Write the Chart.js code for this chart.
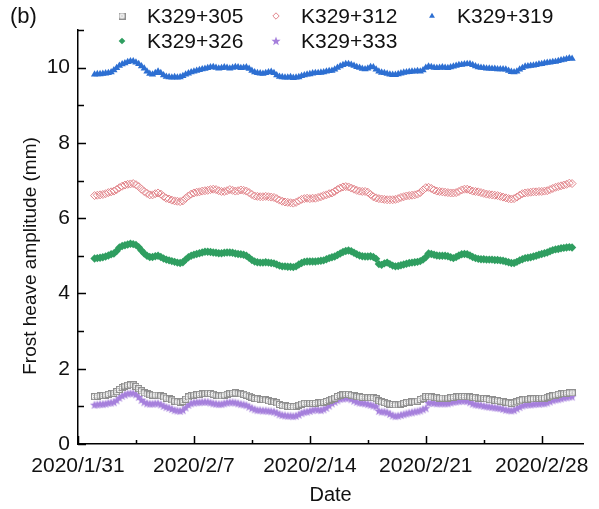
<!DOCTYPE html>
<html>
<head>
<meta charset="utf-8">
<script src="https://cdn.jsdelivr.net/npm/chart.js@4.4.1/dist/chart.umd.min.js"></script>
<style>
  html, body { margin: 0; padding: 0; background: #fff; }
  canvas { display: block; }
</style>
</head>
<body>
<canvas id="chart" width="599" height="509"></canvas>
<script>
// Frost heave amplitude monitored at five sections, one reading every 4 hours
const dateTicks = ['2020/1/31', '2020/2/7', '2020/2/14', '2020/2/21', '2020/2/28'];
const FIRST_DAY = 1;          // first reading: 2020/2/1 00:00 (days after 2020/1/31)
const READINGS_PER_DAY = 6;

const k305 = [
  1.26,1.27,1.28,1.29,1.30,1.32, 1.34,1.35,1.39,1.45,1.50,1.54, 1.56,1.57,1.57,1.53,1.47,1.41,
  1.36,1.33,1.31,1.30,1.30,1.30, 1.28,1.25,1.22,1.20,1.17,1.14, 1.12,1.11,1.13,1.19,1.25,1.29,
  1.30,1.31,1.32,1.33,1.34,1.35, 1.34,1.32,1.30,1.28,1.28,1.30, 1.32,1.34,1.35,1.36,1.35,1.33,
  1.32,1.30,1.27,1.24,1.21,1.20, 1.19,1.18,1.17,1.15,1.13,1.12, 1.09,1.05,1.02,1.01,1.00,1.00,
  0.99,1.00,1.03,1.06,1.08,1.08, 1.08,1.08,1.08,1.09,1.10,1.11, 1.13,1.16,1.19,1.22,1.26,1.29,
  1.31,1.32,1.32,1.30,1.28,1.26, 1.25,1.24,1.24,1.23,1.23,1.23, 1.20,1.15,1.12,1.10,1.08,1.06,
  1.05,1.04,1.04,1.06,1.08,1.10, 1.11,1.12,1.12,1.14,1.18,1.22, 1.26,1.26,1.25,1.24,1.23,1.22,
  1.22,1.22,1.22,1.23,1.24,1.25, 1.26,1.26,1.26,1.26,1.25,1.24, 1.23,1.22,1.22,1.21,1.20,1.18,
  1.17,1.16,1.15,1.14,1.13,1.11, 1.09,1.08,1.09,1.12,1.15,1.17, 1.19,1.19,1.20,1.20,1.21,1.21,
  1.22,1.22,1.24,1.26,1.28,1.30, 1.32,1.33,1.34,1.35,1.36,1.36
];
const k312 = [
  6.60,6.61,6.62,6.63,6.65,6.68, 6.70,6.72,6.76,6.81,6.85,6.88, 6.90,6.91,6.92,6.89,6.84,6.77,
  6.71,6.66,6.62,6.62,6.65,6.67, 6.64,6.58,6.53,6.51,6.48,6.46, 6.45,6.44,6.46,6.53,6.59,6.64,
  6.67,6.69,6.70,6.72,6.73,6.74, 6.76,6.77,6.76,6.73,6.71,6.71, 6.73,6.76,6.74,6.72,6.73,6.75,
  6.74,6.72,6.68,6.63,6.59,6.58, 6.57,6.57,6.58,6.57,6.56,6.55, 6.52,6.48,6.45,6.43,6.42,6.41,
  6.40,6.42,6.46,6.50,6.52,6.53, 6.52,6.53,6.53,6.55,6.57,6.60, 6.62,6.65,6.67,6.71,6.76,6.80,
  6.83,6.84,6.83,6.80,6.77,6.74, 6.72,6.71,6.71,6.69,6.63,6.57, 6.54,6.52,6.51,6.50,6.49,6.49,
  6.49,6.50,6.52,6.55,6.57,6.59, 6.60,6.61,6.62,6.64,6.68,6.75, 6.81,6.82,6.79,6.75,6.72,6.71,
  6.70,6.69,6.68,6.67,6.67,6.68, 6.71,6.75,6.77,6.77,6.75,6.72, 6.71,6.70,6.68,6.66,6.64,6.63,
  6.62,6.61,6.60,6.58,6.56,6.54, 6.52,6.51,6.52,6.56,6.61,6.65, 6.67,6.68,6.69,6.70,6.70,6.71,
  6.71,6.72,6.73,6.76,6.79,6.82, 6.84,6.86,6.88,6.90,6.93,6.92
];
const k319 = [
  9.82,9.83,9.83,9.84,9.85,9.86, 9.88,9.93,9.99,10.05,10.09,10.12, 10.15,10.17,10.17,10.14,10.10,10.04,
  9.98,9.90,9.84,9.82,9.86,9.90, 9.86,9.80,9.76,9.75,9.74,9.75, 9.74,9.75,9.78,9.82,9.85,9.88,
  9.90,9.92,9.94,9.96,9.97,9.99, 10.01,10.02,10.00,9.98,9.99,10.01, 10.00,9.98,10.00,10.02,10.01,9.99,
  10.00,10.01,9.97,9.92,9.88,9.86, 9.85,9.84,9.86,9.88,9.89,9.86, 9.80,9.76,9.75,9.74,9.74,9.75,
  9.73,9.74,9.75,9.78,9.80,9.82, 9.83,9.85,9.86,9.86,9.87,9.88, 9.90,9.91,9.92,9.95,10.00,10.04,
  10.07,10.10,10.10,10.08,10.05,10.02, 10.00,9.97,9.96,9.98,10.02,10.01, 9.95,9.90,9.87,9.86,9.84,9.82,
  9.81,9.81,9.83,9.85,9.87,9.88, 9.89,9.90,9.90,9.91,9.90,9.93, 10.00,10.03,10.02,10.00,9.99,10.00,
  10.01,10.00,9.99,10.01,10.03,10.05, 10.07,10.08,10.09,10.10,10.10,10.07, 10.04,10.01,10.00,9.99,9.98,9.98,
  9.97,9.97,9.96,9.96,9.96,9.95, 9.92,9.89,9.88,9.90,9.95,9.99, 10.03,10.04,10.05,10.06,10.07,10.09,
  10.10,10.12,10.13,10.14,10.15,10.16, 10.18,10.20,10.21,10.23,10.25,10.24
];
const k326 = [
  4.93,4.94,4.95,4.96,4.98,5.01, 5.04,5.06,5.13,5.22,5.26,5.28, 5.30,5.32,5.31,5.29,5.23,5.14,
  5.06,5.00,4.97,4.97,4.99,5.00, 4.97,4.93,4.90,4.88,4.86,4.84, 4.82,4.81,4.83,4.90,4.96,5.00,
  5.03,5.05,5.07,5.09,5.11,5.11, 5.10,5.09,5.08,5.07,5.07,5.08, 5.09,5.09,5.08,5.06,5.05,5.04,
  5.03,5.00,4.95,4.89,4.85,4.83, 4.82,4.82,4.83,4.82,4.81,4.80, 4.77,4.74,4.72,4.72,4.71,4.71,
  4.70,4.72,4.77,4.81,4.84,4.85, 4.85,4.85,4.85,4.86,4.87,4.88, 4.91,4.94,4.96,4.98,5.02,5.06,
  5.10,5.13,5.14,5.12,5.08,5.04, 5.01,4.99,4.98,4.98,4.99,4.97, 4.92,4.78,4.76,4.80,4.82,4.78,
  4.74,4.72,4.73,4.75,4.77,4.79, 4.81,4.82,4.83,4.84,4.86,4.90, 4.96,5.06,5.05,5.03,5.01,5.00,
  5.00,5.00,4.99,4.96,4.94,4.97, 5.01,5.04,5.05,5.04,5.01,4.97, 4.94,4.92,4.91,4.91,4.90,4.90,
  4.90,4.89,4.89,4.88,4.87,4.85, 4.83,4.81,4.81,4.84,4.88,4.91, 4.94,4.95,4.96,4.98,5.00,5.03,
  5.05,5.07,5.09,5.12,5.15,5.17, 5.18,5.20,5.21,5.22,5.23,5.22
];
const k333 = [
  1.04,1.05,1.06,1.06,1.07,1.09, 1.10,1.11,1.16,1.23,1.28,1.31, 1.34,1.35,1.35,1.32,1.25,1.17,
  1.11,1.08,1.07,1.07,1.08,1.08, 1.05,1.01,0.98,0.96,0.93,0.90, 0.89,0.88,0.90,0.97,1.04,1.08,
  1.10,1.11,1.11,1.12,1.12,1.12, 1.10,1.08,1.07,1.06,1.06,1.08, 1.10,1.11,1.11,1.10,1.08,1.06,
  1.05,1.03,0.99,0.95,0.92,0.90, 0.90,0.89,0.89,0.88,0.87,0.86, 0.83,0.79,0.77,0.76,0.75,0.75,
  0.74,0.75,0.78,0.82,0.85,0.86, 0.88,0.90,0.92,0.91,0.90,0.92, 0.96,1.02,1.08,1.12,1.16,1.20,
  1.21,1.22,1.22,1.19,1.15,1.12, 1.10,1.09,1.08,1.06,1.04,1.02, 1.00,0.88,0.86,0.86,0.84,0.80,
  0.76,0.74,0.75,0.77,0.79,0.81, 0.83,0.84,0.86,0.87,0.89,0.92, 0.95,1.09,1.10,1.09,1.08,1.08,
  1.08,1.08,1.08,1.10,1.12,1.13, 1.14,1.15,1.15,1.14,1.11,1.07, 1.05,1.04,1.03,1.01,1.00,0.99,
  0.98,0.97,0.96,0.95,0.93,0.91, 0.90,0.89,0.90,0.94,0.98,1.02, 1.04,1.05,1.05,1.06,1.07,1.07,
  1.08,1.08,1.10,1.13,1.16,1.18, 1.19,1.21,1.23,1.24,1.26,1.26
];

const sectionNames = ['K329+305', 'K329+312', 'K329+319', 'K329+326', 'K329+333'];
const readingDays = k305.map((_, i) => FIRST_DAY + i / READINGS_PER_DAY);

const FONT = "'Liberation Sans', Arial, Helvetica, sans-serif";
const TEXT = '#111';

// Marker sprites: grey boxed cross and filled purple star
function boxCross(edge, cross) {
  const c = document.createElement('canvas');
  c.width = 7; c.height = 7;
  const g = c.getContext('2d');
  g.fillStyle = 'rgba(255,255,255,0.6)';
  g.fillRect(0, 0, 7, 7);
  g.strokeStyle = edge; g.lineWidth = 1;
  g.strokeRect(0.5, 0.5, 6, 6);
  g.strokeStyle = cross;
  g.beginPath();
  g.moveTo(1.5, 1.5); g.lineTo(5.5, 5.5);
  g.moveTo(5.5, 1.5); g.lineTo(1.5, 5.5);
  g.stroke();
  return c;
}
function star(color) {
  const c = document.createElement('canvas');
  c.width = 10; c.height = 10;
  const g = c.getContext('2d');
  g.fillStyle = color;
  g.beginPath();
  for (let k = 0; k < 10; k++) {
    const r = k % 2 ? 2.0 : 4.8;
    const a = -Math.PI / 2 + k * Math.PI / 5;
    const px = 5 + r * Math.cos(a), py = 5.3 + r * Math.sin(a);
    k ? g.lineTo(px, py) : g.moveTo(px, py);
  }
  g.closePath();
  g.fill();
  return c;
}

const seriesStyles = [
  { pointStyle: boxCross('#8f8f8f', '#b8b8b8'), pointRadius: 3.5, backgroundColor: '#999', borderColor: '#999', pointBorderWidth: 1 },
  { pointStyle: 'rectRot', pointRadius: 4, backgroundColor: 'rgba(0,0,0,0)', borderColor: '#e2868c', pointBorderWidth: 1 },
  { pointStyle: 'triangle', pointRadius: 4.2, backgroundColor: '#2d6fd2', borderColor: '#2d6fd2', pointBorderWidth: 0 },
  { pointStyle: 'rectRot', pointRadius: 4.2, backgroundColor: '#2f9e60', borderColor: '#2f9e60', pointBorderWidth: 0 },
  { pointStyle: star('#a680dc'), pointRadius: 4.5, backgroundColor: '#a680dc', borderColor: '#a680dc', pointBorderWidth: 1 }
];

const seriesValues = [k305, k312, k319, k326, k333];

const datasets = seriesValues.map((vals, s) => ({
  label: sectionNames[s],
  data: vals,
  showLine: false,
  pointStyle: seriesStyles[s].pointStyle,
  pointRadius: seriesStyles[s].pointRadius,
  pointBorderWidth: seriesStyles[s].pointBorderWidth,
  pointBackgroundColor: seriesStyles[s].backgroundColor,
  pointBorderColor: seriesStyles[s].borderColor,
  backgroundColor: seriesStyles[s].backgroundColor,
  borderColor: seriesStyles[s].borderColor
}));

// Inward tick marks, legend block, panel tag and y-axis title
const decorations = {
  id: 'decorations',
  afterDraw(chart) {
    const ctx = chart.ctx;
    const xs = chart.scales.x, ys = chart.scales.y;
    const area = chart.chartArea;
    ctx.save();
    ctx.strokeStyle = '#000';
    ctx.lineWidth = 1.5;
    ctx.beginPath();
    for (let d = 0; d <= xs.max; d += 3.5) {
      const px = Math.round(xs.getPixelForValue(d)) + 0.5;
      const len = (d % 7 === 0) ? 8 : 4;
      ctx.moveTo(px, area.bottom);
      ctx.lineTo(px, area.bottom - len);
    }
    for (let v = 0; v <= ys.max; v += 1) {
      const py = Math.round(ys.getPixelForValue(v)) + 0.5;
      const len = (v % 2 === 0) ? 8 : 6;
      ctx.moveTo(area.left, py);
      ctx.lineTo(area.left + len, py);
    }
    ctx.stroke();

    // panel tag
    ctx.fillStyle = TEXT;
    ctx.textBaseline = 'middle';
    ctx.textAlign = 'left';
    ctx.font = `22px ${FONT}`;
    ctx.fillText('(b)', 10, 17);

    // y-axis title
    ctx.save();
    ctx.translate(31, 256);
    ctx.rotate(-Math.PI / 2);
    ctx.textAlign = 'center';
    ctx.font = `19px ${FONT}`;
    ctx.fillText('Frost heave amplitude (mm)', 0, 0);
    ctx.restore();

    // legend: three columns, two rows
    const slots = [[122, 16], [276, 16], [432, 16], [122, 41], [276, 41]];
    ctx.font = `21px ${FONT}`;
    chart.data.datasets.forEach((ds, i) => {
      const [mx, my] = slots[i];
      ctx.fillStyle = ds.pointBackgroundColor;
      ctx.strokeStyle = ds.pointBorderColor;
      ctx.lineWidth = ds.pointBorderWidth || 0;
      Chart.helpers.drawPoint(ctx, {
        pointStyle: ds.pointStyle,
        radius: ds.pointRadius * 0.8,
        borderWidth: ds.pointBorderWidth,
        rotation: 0
      }, mx, my);
      ctx.fillStyle = TEXT;
      ctx.textAlign = 'left';
      ctx.fillText(ds.label, mx + 25, my + 1);
    });
    ctx.restore();
  }
};

new Chart(document.getElementById('chart'), {
  type: 'line',
  data: { labels: readingDays, datasets },
  options: {
    responsive: false,
    animation: false,
    devicePixelRatio: 1,
    layout: { padding: { top: 30, right: 7, left: 0, bottom: 0 } },
    plugins: { legend: { display: false }, tooltip: { enabled: false } },
    scales: {
      x: {
        type: 'linear',
        min: 0,
        max: 30.5,
        afterFit(scale) { scale.height = 65; },
        grid: { display: false, drawTicks: false },
        border: { display: true, color: '#000', width: 1.5 },
        ticks: {
          stepSize: 7,
          includeBounds: false,
          autoSkip: false,
          maxRotation: 0,
          padding: 10,
          color: TEXT,
          font: { size: 21, family: FONT },
          callback: (v) => dateTicks[v / 7] ?? ''
        },
        title: {
          display: true,
          text: 'Date',
          color: TEXT,
          font: { size: 20, family: FONT },
          padding: { top: 0, bottom: 2 }
        }
      },
      y: {
        min: 0,
        max: 11,
        afterFit(scale) { scale.width = 78; },
        grid: { display: false, drawTicks: false },
        border: { display: true, color: '#000', width: 1.5 },
        ticks: {
          stepSize: 2,
          includeBounds: false,
          padding: 8,
          color: TEXT,
          font: { size: 21, family: FONT }
        }
      }
    }
  },
  plugins: [decorations]
});
</script>
</body>
</html>
